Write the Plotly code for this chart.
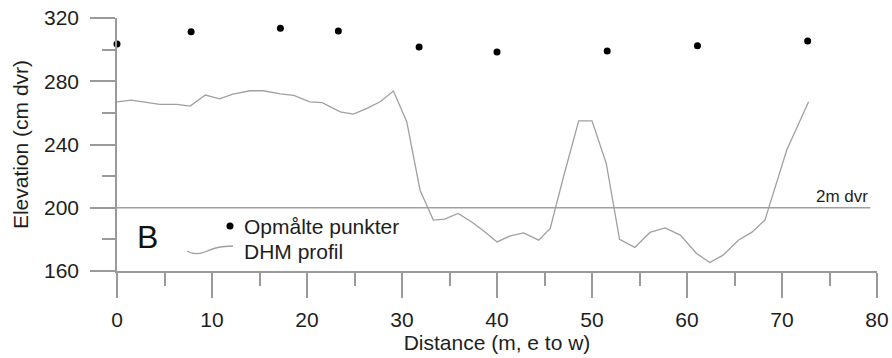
import plotly.graph_objects as go

# Surveyed points (Opmålte punkter)
pts_x = [0.0, 7.8, 17.2, 23.3, 31.8, 40.0, 51.6, 61.1, 72.7]
pts_y = [303.5, 311.3, 313.5, 311.8, 301.6, 298.5, 299.1, 302.5, 305.4]

# DHM profile
dhm_x = [0.0, 1.5, 3.1, 4.5, 6.3, 7.7, 9.3, 10.8, 12.2, 14.0, 15.4, 17.2, 18.6,
         20.3, 21.6, 23.5, 24.9, 26.3, 27.7, 29.1, 30.5, 31.9, 33.3, 34.5, 35.9,
         37.3, 38.7, 40.0, 41.4, 42.8, 44.4, 45.6, 47.0, 48.6, 50.0, 51.5, 52.9,
         54.5, 56.1, 57.7, 59.3, 61.0, 62.4, 63.8, 65.4, 66.8, 68.2, 70.5, 72.8]
dhm_y = [267.0, 268.1, 266.6, 265.4, 265.4, 264.3, 271.3, 268.9, 271.9, 274.0,
         274.0, 272.0, 271.1, 267.0, 266.5, 260.7, 259.2, 262.8, 267.0, 273.8,
         254.4, 211.1, 192.2, 192.8, 196.4, 191.1, 184.8, 178.4, 182.2, 184.1,
         179.5, 186.9, 219.6, 255.0, 255.0, 228.0, 180.0, 174.9, 184.4, 187.3,
         182.7, 171.1, 165.4, 170.0, 179.5, 184.4, 192.2, 236.5, 267.0]

ref_level = 200
ref_x_start = 0
ref_x_end = 79.3
ref_label = "2m dvr"

x_ticks = [0, 10, 20, 30, 40, 50, 60, 70, 80]
y_ticks = [160, 200, 240, 280, 320]

legend_names = ["Opmålte punkter", "DHM profil"]
panel_label = "B"

FONT = "Liberation Sans, Arial, sans-serif"
AXC = "#9a9a9a"
LINEC = "#a0a0a0"
TXT = "#1e1e1e"

W, H = 892, 358
ML, MR, MT, MB = 117, 15, 18, 87
PW, PH = W - ML - MR, H - MT - MB


def px(xp):
    return (xp - ML) / PW


def py(yp):
    return (H - MB - yp) / PH


fig = go.Figure()
fig.add_trace(go.Scatter(
    x=pts_x, y=pts_y, mode="markers", name=legend_names[0],
    marker=dict(color="black", size=7), cliponaxis=False, showlegend=False))
fig.add_trace(go.Scatter(
    x=dhm_x, y=dhm_y, mode="lines", name=legend_names[1],
    line=dict(color=LINEC, width=1.3), cliponaxis=False, showlegend=False))

fig.add_shape(type="line", xref="x", yref="y", x0=ref_x_start, x1=ref_x_end,
              y0=ref_level, y1=ref_level, line=dict(color=LINEC, width=1.5), layer="below")
fig.add_annotation(x=ref_x_end, y=ref_level, xref="x", yref="y", text=ref_label,
                   showarrow=False, xanchor="right", yanchor="bottom", yshift=0,
                   font=dict(family=FONT, size=17, color=TXT))

# panel letter
fig.add_annotation(x=px(147), y=py(237), xref="paper", yref="paper", text=panel_label,
                   showarrow=False, xanchor="center", yanchor="middle",
                   font=dict(family=FONT, size=32, color="#111"))

# hand-drawn style legend (glyphs + labels)
fig.add_shape(type="circle", xref="paper", yref="paper",
              x0=px(226.5), x1=px(233.5), y0=py(229.5), y1=py(222.5),
              fillcolor="black", line=dict(width=0))
wave = "M {:.5f},{:.5f} Q {:.5f},{:.5f} {:.5f},{:.5f} T {:.5f},{:.5f} L {:.5f},{:.5f}".format(
    px(187), py(251), px(196), py(256), px(206), py(251.5), px(225), py(246.5), px(233), py(246))
fig.add_shape(type="path", xref="paper", yref="paper", path=wave,
              line=dict(color=LINEC, width=1.3))
fig.add_annotation(x=px(242), y=py(226), xref="paper", yref="paper", text=legend_names[0],
                   showarrow=False, xanchor="left", yanchor="middle",
                   font=dict(family=FONT, size=21, color=TXT))
fig.add_annotation(x=px(242), y=py(251), xref="paper", yref="paper", text=legend_names[1],
                   showarrow=False, xanchor="left", yanchor="middle",
                   font=dict(family=FONT, size=21, color=TXT))

axis_common = dict(
    showline=True, linecolor=AXC, linewidth=1.5, showgrid=False, zeroline=False,
    ticks="outside", ticklen=25, tickwidth=1.5, tickcolor=AXC,
    tickfont=dict(family=FONT, size=21, color=TXT),
)

fig.update_xaxes(range=[0, 80], tickvals=x_ticks, ticklabelstandoff=4,
                 minor=dict(dtick=5, tick0=0, ticks="outside", ticklen=13, tickwidth=1.5, tickcolor=AXC),
                 title=dict(text="Distance (m, e to w)", standoff=0,
                            font=dict(family=FONT, size=21, color=TXT)),
                 **axis_common)
fig.update_yaxes(range=[160, 320], tickvals=y_ticks, ticklabelstandoff=7,
                 minor=dict(dtick=20, tick0=160, ticks="outside", ticklen=13, tickwidth=1.5, tickcolor=AXC),
                 title=dict(text="Elevation (cm dvr)", standoff=10,
                            font=dict(family=FONT, size=21, color=TXT)),
                 **axis_common)

fig.update_layout(
    width=W, height=H,
    margin=dict(l=ML, r=MR, t=MT, b=MB, autoexpand=False),
    paper_bgcolor="white", plot_bgcolor="white",
    showlegend=False,
    font=dict(family=FONT),
)

fig.write_html("out.html", config={"displayModeBar": False},
               post_script="document.body.style.margin='0';document.body.style.overflow='hidden';")
